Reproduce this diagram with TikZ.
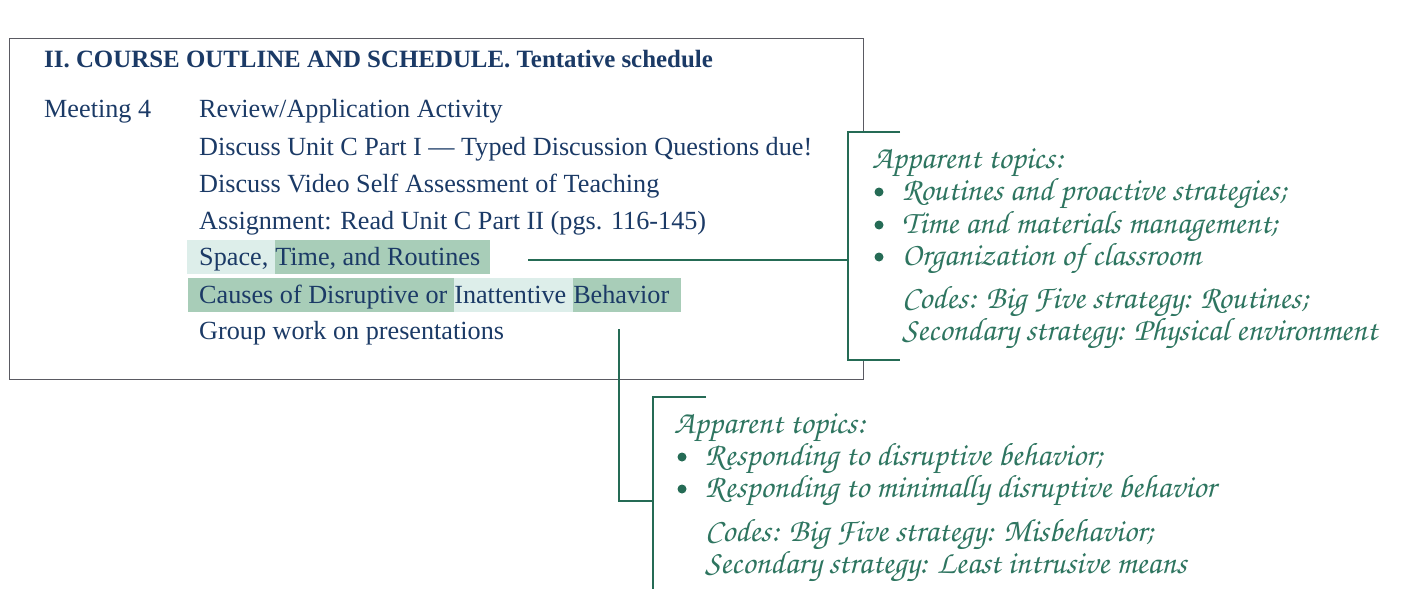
\documentclass[tikz,border=0pt]{standalone}
\usepackage{fontspec}
\setmainfont{Liberation Serif}
\newfontfamily\hand{texgyrechorus-mediumitalic.otf}
\definecolor{navy}{HTML}{1B3A66}
\definecolor{linec}{HTML}{256B55}
\definecolor{handc}{HTML}{2E7560}
\definecolor{hidark}{HTML}{A8CDB8}
\definecolor{hilight}{HTML}{DDEEEA}
\definecolor{boxc}{HTML}{5A5A62}
\begin{document}
\begin{tikzpicture}[x=1pt,y=-1pt,
  sched/.style={anchor=base west, inner sep=0pt, text=navy, font=\fontsize{26.2}{30}\selectfont},
  head/.style={sched, font=\bfseries\fontsize{24.9}{30}\selectfont},
  hlseg/.style={sched, text height=25pt, text depth=9pt},
  note/.style={anchor=base west, inner sep=0pt, text=handc, font=\hand\fontsize{32.5}{36}\selectfont},
  bul/.style={circle, fill=linec, inner sep=0pt, minimum size=9pt},
  conn/.style={draw=linec, line width=1.3pt},
  frame/.style={draw=boxc, line width=1.4pt}]
\useasboundingbox (0,0) rectangle (1401,589);
% schedule box
\node[frame, anchor=north west, minimum width=854pt, minimum height=341pt, inner sep=0pt] (box) at (9,38) {};
\fill[white] (855,133) rectangle (872,359);
% texts
\node[head] (h) at (44,67) {II. COURSE OUTLINE AND SCHEDULE. Tentative schedule};
\node[sched] (m4) at (44,117) {Meeting 4};
\node[sched] (r1) at (199,117) {Review/Application Activity};
\node[sched] (r2) at (199,155) {Discuss Unit C Part I — Typed Discussion Questions due!};
\node[sched] (r3) at (199,192) {Discuss Video Self Assessment of Teaching};
\node[sched] (r4) at (199,229) {Assignment: Read Unit C Part II (pgs. 116-145)};
\node[hlseg, fill=hilight] (l5a) at (187,265) {\kern12pt Space,\kern0.25em};
\node[hlseg, fill=hidark] (l5b) at (l5a.base east) {Time, and Routines\kern10pt};
\node[hlseg, fill=hidark] (l6a) at (188,303) {\kern11pt Causes of Disruptive or\kern0.25em};
\node[hlseg, fill=hilight] (l6b) at (l6a.base east) {Inattentive\kern0.25em};
\node[hlseg, fill=hidark] (l6c) at (l6b.base east) {Behavior\kern12pt};
\node[sched] (r7) at (199,339) {Group work on presentations};
% first annotation
\coordinate (b1t) at (900,132);
\coordinate (b1tc) at (848,132);
\coordinate (b1m) at (848,260);
\coordinate (b1bc) at (848,360);
\coordinate (b1b) at (900,360);
\draw[conn] (b1t) -- (b1tc) -- (b1bc) -- (b1b);
\coordinate (c1s) at (528,260);
\draw[conn] (c1s) -- (b1m);
\node[note] (a1) at (872,168) {Apparent topics:};
\node[bul] (a1b1) at (879,192) {};
\node[note] (a1t1) at (902,200) {Routines and proactive strategies;};
\node[bul] (a1b2) at (879,225) {};
\node[note] (a1t2) at (902,233) {Time and materials management;};
\node[bul] (a1b3) at (879,257) {};
\node[note] (a1t3) at (902,265) {Organization of classroom};
\node[note] (a1c1) at (902,308) {Codes: Big Five strategy: Routines;};
\node[note] (a1c2) at (902,340) {Secondary strategy: Physical environment};
% second annotation
\coordinate (b2t) at (706,397);
\coordinate (b2tc) at (653,397);
\coordinate (b2m) at (653,501);
\coordinate (b2bc) at (653,592);
\draw[conn] (b2t) -- (b2tc) -- (b2bc);
\coordinate (c2s) at (619,329);
\draw[conn] (c2s) |- (b2m);
\node[note] (a2) at (674,433) {Apparent topics:};
\node[bul] (a2b1) at (682,457) {};
\node[note] (a2t1) at (705,465) {Responding to disruptive behavior;};
\node[bul] (a2b2) at (682,489) {};
\node[note] (a2t2) at (705,497) {Responding to minimally disruptive behavior};
\node[note] (a2c1) at (705,541) {Codes: Big Five strategy: Misbehavior;};
\node[note] (a2c2) at (705,573) {Secondary strategy: Least intrusive means};
\end{tikzpicture}
\end{document}
